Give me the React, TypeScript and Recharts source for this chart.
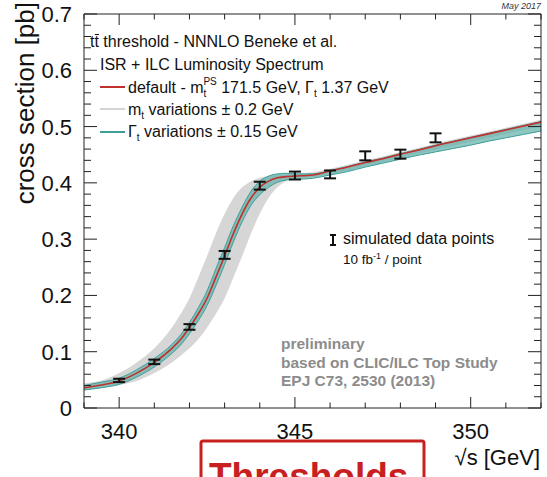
import { ComposedChart, Area, Line, Scatter, ErrorBar, XAxis, YAxis } from 'recharts';

// sqrt(s) grid of the theory curves [GeV]
const sqrtS = [
  339, 339.5, 340, 340.5, 341, 341.5, 341.75, 342, 342.25, 342.5, 342.75, 343, 343.25, 343.5, 343.75, 344,
  344.25, 344.5, 344.75, 345, 345.5, 346, 346.5, 347, 347.5, 348, 348.5, 349, 349.5, 350, 350.5, 351, 351.5, 352,
];
// default: m_t^PS 171.5 GeV, Gamma_t 1.37 GeV [pb]
const defaultXsec = [
  0.036, 0.041, 0.048, 0.062, 0.081, 0.106, 0.122, 0.143, 0.167, 0.195, 0.232, 0.27, 0.31, 0.345, 0.373, 0.392,
  0.403, 0.409, 0.411, 0.412, 0.414, 0.421, 0.428, 0.436, 0.443, 0.451, 0.458, 0.466, 0.473, 0.48, 0.487, 0.494, 0.501, 0.508,
];
// m_t variations +-0.2 GeV (envelope)
const mtLow = [
  0.031, 0.036, 0.041, 0.048, 0.062, 0.081, 0.093, 0.106, 0.122, 0.143, 0.167, 0.195, 0.232, 0.27, 0.31, 0.345,
  0.373, 0.392, 0.403, 0.408, 0.41, 0.415, 0.422, 0.43, 0.437, 0.445, 0.452, 0.459, 0.466, 0.473, 0.48, 0.487, 0.494, 0.5,
];
const mtHigh = [
  0.044, 0.049, 0.062, 0.081, 0.106, 0.143, 0.167, 0.195, 0.232, 0.27, 0.31, 0.345, 0.373, 0.392, 0.403, 0.409,
  0.412, 0.414, 0.415, 0.416, 0.419, 0.425, 0.432, 0.44, 0.447, 0.455, 0.462, 0.47, 0.477, 0.484, 0.491, 0.498, 0.505, 0.512,
];
// Gamma_t variations +-0.15 GeV (envelope)
const widthLow = [
  0.032, 0.036, 0.042, 0.055, 0.073, 0.097, 0.112, 0.132, 0.155, 0.182, 0.217, 0.255, 0.295, 0.331, 0.36, 0.379,
  0.392, 0.401, 0.405, 0.406, 0.408, 0.414, 0.42, 0.428, 0.435, 0.442, 0.449, 0.455, 0.461, 0.467, 0.474, 0.48, 0.486, 0.492,
];
const widthHigh = [
  0.04, 0.046, 0.053, 0.068, 0.088, 0.113, 0.13, 0.152, 0.178, 0.208, 0.247, 0.285, 0.324, 0.357, 0.385, 0.403,
  0.412, 0.416, 0.417, 0.416, 0.416, 0.422, 0.429, 0.437, 0.444, 0.452, 0.459, 0.467, 0.474, 0.481, 0.488, 0.495, 0.502, 0.509,
];

// simulated data points, 10 fb^-1 / point
const pointS = [340, 341, 342, 343, 344, 345, 346, 347, 348, 349];
const pointXsec = [0.049, 0.082, 0.144, 0.272, 0.395, 0.413, 0.415, 0.448, 0.451, 0.48];
const pointErr = [0.003, 0.004, 0.005, 0.007, 0.007, 0.007, 0.007, 0.008, 0.008, 0.008];

const xTicks = [339, 340, 341, 342, 343, 344, 345, 346, 347, 348, 349, 350, 351, 352];
const xLabels = [340, 345, 350];
const yTicks = [
  0, 0.02, 0.04, 0.06, 0.08, 0.1, 0.12, 0.14, 0.16, 0.18, 0.2, 0.22, 0.24, 0.26, 0.28, 0.3, 0.32, 0.34, 0.36,
  0.38, 0.4, 0.42, 0.44, 0.46, 0.48, 0.5, 0.52, 0.54, 0.56, 0.58, 0.6, 0.62, 0.64, 0.66, 0.68, 0.7,
];
const yLabels = ['0', '0.1', '0.2', '0.3', '0.4', '0.5', '0.6', '0.7'];

const FONT = '"Liberation Sans", Arial, Helvetica, sans-serif';
const AXIS = '#222';

const curveRows = sqrtS.map((s, i) => ({
  s,
  xsec: defaultXsec[i],
  mt: [mtLow[i], mtHigh[i]],
  width: [widthLow[i], widthHigh[i]],
}));

const pointRows = pointS.map((s, i) => ({ s, xsec: pointXsec[i], err: pointErr[i] }));

const yLabelFor = (v: number) => yLabels.find((l) => Math.abs(parseFloat(l) - v) < 1e-6);

const BottomTick = ({ x, y, payload }: any) => {
  const major = xLabels.includes(payload.value);
  return (
    <g>
      <line x1={x} x2={x} y1={y} y2={y - (major ? 11 : 5.5)} stroke={AXIS} />
      {major && (
        <text x={x} y={y + 31} textAnchor="middle" fontSize={22} fill="#111" fontFamily={FONT}>
          {payload.value}
        </text>
      )}
    </g>
  );
};

const TopTick = ({ x, y, payload }: any) => {
  const major = xLabels.includes(payload.value);
  return <line x1={x} x2={x} y1={y} y2={y + (major ? 11 : 5.5)} stroke={AXIS} />;
};

const LeftTick = ({ x, y, payload }: any) => {
  const label = yLabelFor(payload.value);
  return (
    <g>
      <line x1={x} x2={x + (label ? 13 : 7)} y1={y} y2={y} stroke={AXIS} />
      {label && (
        <text x={x - 12} y={y + 8} textAnchor="end" fontSize={22} fill="#111" fontFamily={FONT}>
          {label}
        </text>
      )}
    </g>
  );
};

const RightTick = ({ x, y, payload }: any) => {
  const label = yLabelFor(payload.value);
  return <line x1={x} x2={x - (label ? 13 : 7)} y1={y} y2={y} stroke={AXIS} />;
};

const NoDot = () => <g />;

function Overlay() {
  const t = { fontFamily: FONT, fill: '#111' };
  return (
    <svg
      width={547}
      height={477}
      style={{ position: 'absolute', left: 0, top: 0, pointerEvents: 'none' }}
    >
      <text x={541} y={9} textAnchor="end" fontSize={9} fontStyle="italic" {...t} fill="#333">
        May 2017
      </text>
      <text transform="translate(34,2) rotate(-90)" textAnchor="end" fontSize={26} {...t}>
        cross section [pb]
      </text>

      <text x={90} y={47} fontSize={16} {...t}>tt threshold - NNNLO Beneke et al.</text>
      <line x1={94.8} x2={99} y1={34.5} y2={34.5} stroke="#111" strokeWidth={1} />
      <text x={100} y={70} fontSize={16} {...t}>ISR + ILC Luminosity Spectrum</text>

      <line x1={100} x2={125} y1={87} y2={87} stroke="#c0302c" strokeWidth={2} />
      <text x={128} y={93} fontSize={16} {...t}>
        <tspan>default - m</tspan>
        <tspan dy={4} fontSize={10}>t</tspan>
        <tspan dx={-3} dy={-12} fontSize={10}>PS</tspan>
        <tspan dy={8}> 171.5 GeV, Γ</tspan>
        <tspan dy={4} fontSize={10}>t</tspan>
        <tspan dy={-4}> 1.37 GeV</tspan>
      </text>

      <line x1={100} x2={125} y1={109} y2={109} stroke="#d4d4d4" strokeWidth={2} />
      <text x={128} y={115} fontSize={16} {...t}>
        <tspan>m</tspan>
        <tspan dy={4} fontSize={10}>t</tspan>
        <tspan dy={-4}> variations ± 0.2 GeV</tspan>
      </text>

      <line x1={100} x2={125} y1={132} y2={132} stroke="#3f9e99" strokeWidth={2} />
      <text x={128} y={137} fontSize={16} {...t}>
        <tspan>Γ</tspan>
        <tspan dy={4} fontSize={10}>t</tspan>
        <tspan dy={-4}> variations ± 0.15 GeV</tspan>
      </text>

      <g stroke="#111" strokeWidth={2}>
        <line x1={333} x2={333} y1={235} y2={245} />
        <line x1={330} x2={336} y1={235} y2={235} />
        <line x1={330} x2={336} y1={245} y2={245} />
      </g>
      <text x={343} y={244} fontSize={16} {...t}>simulated data points</text>
      <text x={343} y={264} fontSize={13.5} {...t}>
        <tspan>10 fb</tspan>
        <tspan dy={-5} fontSize={9}>-1</tspan>
        <tspan dy={5}> / point</tspan>
      </text>

      <g fontFamily={FONT} fontWeight="bold" fontSize={15.5} fill="#8c8c8c">
        <text x={281} y={349}>preliminary</text>
        <text x={281} y={368}>based on CLIC/ILC Top Study</text>
        <text x={281} y={386}>EPJ C73, 2530 (2013)</text>
      </g>

      <text x={540} y={465} textAnchor="end" fontSize={22} {...t}>√s [GeV]</text>

      <rect x={201} y={441} width={223} height={60} fill="none" stroke="#c8201e" strokeWidth={3} rx={2} />
      <text x={209} y={489} fontSize={37} fontWeight="bold" fontFamily={FONT} fill="#c8201e">
        Thresholds
      </text>
    </svg>
  );
}

export default function App() {
  return (
    <div
      style={{
        position: 'absolute',
        left: 0,
        top: 0,
        width: 547,
        height: 477,
        background: '#fff',
        overflow: 'hidden',
        fontFamily: FONT,
      }}
    >
      <ComposedChart width={547} height={477} data={curveRows} margin={{ top: 0, right: 0, bottom: 0, left: 0 }}>
        <XAxis
          dataKey="s"
          type="number"
          domain={[339, 352]}
          allowDataOverflow
          ticks={xTicks}
          interval={0}
          height={69}
          tickSize={0}
          tickMargin={0}
          tickLine={false}
          axisLine={{ stroke: AXIS }}
          tick={<BottomTick />}
        />
        <XAxis
          xAxisId="top"
          orientation="top"
          dataKey="s"
          type="number"
          domain={[339, 352]}
          allowDataOverflow
          ticks={xTicks}
          interval={0}
          height={14}
          tickSize={0}
          tickMargin={0}
          tickLine={false}
          axisLine={{ stroke: AXIS }}
          tick={<TopTick />}
        />
        <YAxis
          type="number"
          domain={[0, 0.7]}
          allowDataOverflow
          ticks={yTicks}
          interval={0}
          width={84}
          tickSize={0}
          tickMargin={0}
          tickLine={false}
          axisLine={{ stroke: AXIS }}
          tick={<LeftTick />}
        />
        <YAxis
          yAxisId="right"
          orientation="right"
          type="number"
          domain={[0, 0.7]}
          allowDataOverflow
          ticks={yTicks}
          interval={0}
          width={6}
          tickSize={0}
          tickMargin={0}
          tickLine={false}
          axisLine={{ stroke: AXIS }}
          tick={<RightTick />}
        />
        <Area
          type="monotone"
          dataKey="mt"
          stroke="none"
          fill="#d2d2d2"
          fillOpacity={0.9}
          isAnimationActive={false}
          activeDot={false}
        />
        <Area
          type="monotone"
          dataKey="width"
          stroke="#3f9e99"
          strokeWidth={1}
          fill="#5fb0aa"
          fillOpacity={0.7}
          isAnimationActive={false}
          activeDot={false}
        />
        <Line
          type="monotone"
          dataKey="xsec"
          stroke="#c0302c"
          strokeWidth={1.6}
          dot={false}
          activeDot={false}
          isAnimationActive={false}
        />
        <Scatter data={pointRows} dataKey="xsec" shape={<NoDot />} isAnimationActive={false}>
          <ErrorBar dataKey="err" direction="y" width={6} stroke="#111" strokeWidth={2} />
        </Scatter>
      </ComposedChart>
      <Overlay />
    </div>
  );
}
